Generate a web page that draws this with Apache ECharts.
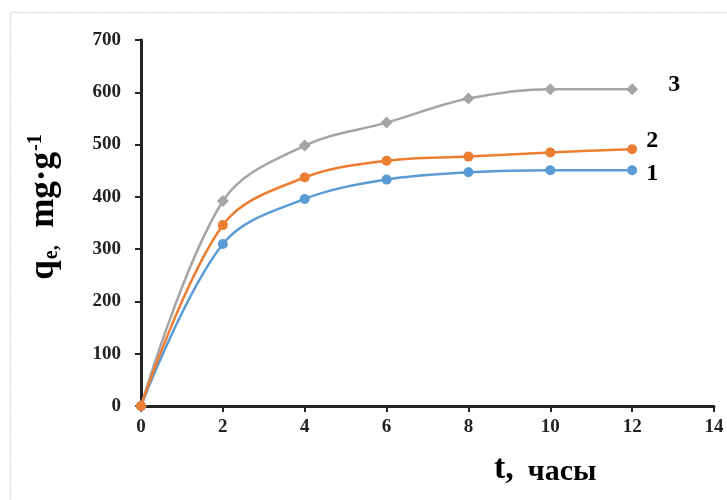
<!DOCTYPE html>
<html>
<head>
<meta charset="utf-8">
<script src="https://cdn.jsdelivr.net/npm/echarts@6/dist/echarts.min.js"></script>
<style>
  html, body { margin: 0; padding: 0; background: #fff; }
  #chart { width: 727px; height: 500px; }
</style>
</head>
<body>
<div id="chart"></div>
<script>
// Adsorption kinetics: q_e versus time for three samples
const timeHours = [0, 2, 4, 6, 8, 10, 12];
const series1 = [0, 310, 396, 433, 447, 451, 451];
const series2 = [0, 346, 437, 469, 477, 485, 491];
const series3 = [0, 392, 498, 542, 588, 606, 606];
const seriesNames = ['1', '2', '3'];
const xTicks = [0, 2, 4, 6, 8, 10, 12, 14];
const yTicks = [0, 100, 200, 300, 400, 500, 600, 700];

const serif = '"Liberation Serif", "Times New Roman", serif';
const pair = (xs, ys) => xs.map((x, i) => [x, ys[i]]);

const chart = echarts.init(document.getElementById('chart'));

function makeSeries(name, values, color, symbol, labelOffset, z) {
  return {
    name: name,
    type: 'line',
    smooth: 0.35,
    data: pair(timeHours, values),
    symbol: symbol,
    symbolSize: symbol === 'diamond' ? 12 : 10,
    lineStyle: { color: color, width: 2.5 },
    itemStyle: { color: color },
    z: z,
    endLabel: {
      show: true,
      formatter: name,
      offset: labelOffset,
      fontFamily: serif,
      fontWeight: 'bold',
      fontSize: 24,
      color: '#000'
    }
  };
}

chart.setOption({
  animation: false,
  backgroundColor: '#fff',
  grid: { left: 141, right: 13, top: 40, bottom: 94, containLabel: false },
  xAxis: {
    type: 'value',
    min: xTicks[0],
    max: xTicks[xTicks.length - 1],
    interval: 2,
    splitLine: { show: false },
    axisLine: { onZero: false, lineStyle: { color: '#222', width: 3 } },
    axisTick: { show: true, length: 6, lineStyle: { color: '#222', width: 2 } },
    axisLabel: { fontFamily: serif, fontWeight: 'bold', fontSize: 19, color: '#222', margin: 12 }
  },
  yAxis: {
    type: 'value',
    min: yTicks[0],
    max: yTicks[yTicks.length - 1],
    interval: 100,
    splitLine: { show: false },
    axisLine: { show: true, lineStyle: { color: '#222', width: 3 } },
    axisTick: { show: true, length: 6, lineStyle: { color: '#222', width: 2 } },
    axisLabel: { fontFamily: serif, fontWeight: 'bold', fontSize: 19, color: '#222', margin: 20 }
  },
  series: [
    makeSeries(seriesNames[2], series3, '#A5A5A5', 'diamond', [28, -4], 2),
    makeSeries(seriesNames[0], series1, '#5B9BD5', 'circle', [6, 4], 3),
    makeSeries(seriesNames[1], series2, '#ED7D31', 'circle', [6, -8], 4)
  ],
  graphic: [
    {
      type: 'rect',
      shape: { x: 10.5, y: 12.5, width: 740, height: 520 },
      style: { fill: 'none', stroke: '#d8d8d8', lineWidth: 1.5, lineDash: [2, 1] },
      silent: true
    },
    {
      // y-axis title: q_e, mg·g^-1
      type: 'text',
      x: 44,
      y: 207,
      rotation: Math.PI / 2,
      style: {
        text: '{m|q}{s|e,}{m|  mg·g}{p|-1}',
        align: 'center',
        verticalAlign: 'middle',
        rich: {
          m: { fontFamily: serif, fontWeight: 'bold', fontSize: 35, color: '#222' },
          s: { fontFamily: serif, fontWeight: 'bold', fontSize: 20, color: '#222', verticalAlign: 'bottom', padding: [16, 0, 0, 1] },
          p: { fontFamily: serif, fontWeight: 'bold', fontSize: 20, color: '#222', verticalAlign: 'top', padding: [0, 0, 16, 1] }
        }
      }
    },
    {
      // x-axis title
      type: 'text',
      left: 494,
      top: 452,
      style: {
        text: '{t|t,}{c|часы}',
        rich: {
          t: { fontFamily: serif, fontWeight: 'bold', fontSize: 34, color: '#222' },
          c: { fontFamily: serif, fontWeight: 'bold', fontSize: 30, color: '#222', padding: [6, 0, 0, 14] }
        }
      }
    }
  ]
});
</script>
</body>
</html>
